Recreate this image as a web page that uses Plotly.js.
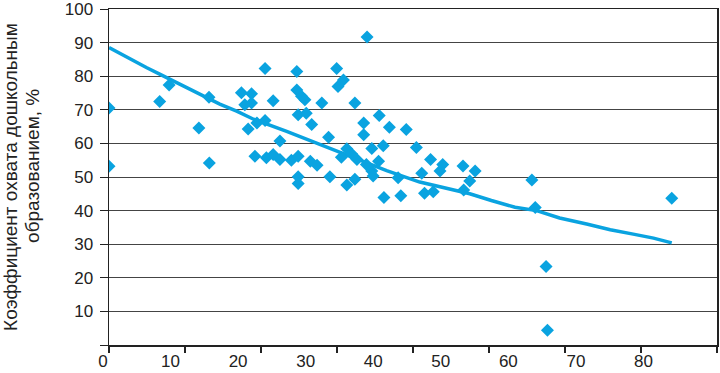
<!DOCTYPE html>
<html>
<head>
<meta charset="utf-8">
<script src="https://cdn.plot.ly/plotly-3.0.1.min.js"></script>
<style>html,body{margin:0;padding:0;background:#fff;}#chart{width:720px;height:373px;}</style>
</head>
<body>
<div id="chart"></div>
<script>
// Scatter points: x = indicator value, y = pre-school enrolment ratio, %
const pointsX = [0, 0, 7.5, 8.9, 13.3, 14.8, 14.85,
  19.6, 21.1, 20.1, 21.1, 24.3, 20.6, 21.9, 23.1, 23.1, 25.3,
  27.8, 27.8, 28.5, 29.0, 31.5, 28.0, 29.2, 30.0, 32.5,
  33.7, 34.7, 33.9, 36.4, 38.2,
  40.0, 37.7, 37.7, 41.5, 44.0,
  21.6, 23.3, 24.3, 25.3, 27.0, 28.0, 29.8, 30.8, 28.0, 28.0, 32.7, 34.4, 35.2,
  35.2, 35.9, 36.7, 38.9, 40.6, 39.9, 38.1, 38.9, 39.1, 36.4, 45.5, 42.8,
  40.7, 43.2, 47.6, 49.4, 49.0, 46.3, 46.7, 48.0,
  52.4, 54.2, 53.4, 52.5,
  62.6, 63.1, 83.3, 64.7, 64.9];
const pointsY = [70.5, 53.2, 72.5, 77.4, 64.6, 73.7, 54.2,
  75.1, 74.8, 71.5, 72.0, 72.7, 64.3, 66.1, 66.8, 82.3, 60.7,
  81.4, 75.9, 74.0, 73.0, 72.0, 68.5, 69.0, 65.6, 61.8,
  82.3, 78.9, 76.9, 72.0, 91.7,
  68.3, 66.1, 62.6, 64.8, 64.1,
  56.2, 55.7, 56.7, 55.2, 55.0, 56.2, 54.7, 53.5, 50.1, 48.1, 50.1, 55.9, 47.6,
  58.4, 56.9, 55.2, 58.5, 59.3, 54.7, 53.7, 51.8, 50.3, 49.3, 58.8, 49.8,
  43.9, 44.4, 55.2, 53.7, 51.8, 51.1, 45.2, 45.6,
  53.3, 51.8, 48.8, 46.1,
  49.1, 40.9, 43.7, 23.4, 4.4];

// Trend line
const trendX = [0, 2.6, 5.6, 7.5, 10.5, 13.5, 14.9, 16.4, 18.9, 21.4, 26.3, 31.2, 36.2, 41.1, 46.0, 51.0, 53.4, 56.6, 60.1, 63.3, 66.7, 70.7, 74.2, 77.6, 80.6, 83.3];
const trendY = [88.5, 85.6, 82.5, 80.6, 77.6, 74.6, 73.2, 71.7, 69.6, 67.2, 63.6, 59.7, 55.6, 51.9, 48.5, 46.3, 45.0, 43.0, 41.0, 40.0, 37.8, 36.0, 34.3, 33.0, 31.8, 30.4];

const xTickVals = [0, 10, 20, 30, 40, 50, 60, 70, 80];
const xTickText = ['0', '10', '20', '30', '40', '50', '60', '70', '80'];
const yTickVals = [0, 10, 20, 30, 40, 50, 60, 70, 80, 90, 100];
const yTickText = ['', '10', '20', '30', '40', '50', '60', '70', '80', '90', '100'];
const titleLine1 = 'Коэффициент охвата дошкольным';
const titleLine2 = 'образованием, %';

const blue = '#0aa3e0';
const font = {family: '"Liberation Sans", Arial, sans-serif', size: 17, color: '#222'};

const traces = [
  {x: trendX, y: trendY, type: 'scatter', mode: 'lines', line: {color: blue, width: 3.5}, hoverinfo: 'skip'},
  {x: pointsX, y: pointsY, type: 'scatter', mode: 'markers', marker: {symbol: 'diamond', size: 10, color: blue}}
];

const layout = {
  width: 720, height: 373,
  margin: {l: 109, r: 3, t: 9, b: 28},
  paper_bgcolor: '#fff', plot_bgcolor: '#fff',
  showlegend: false,
  font: font,
  xaxis: {
    range: [0, 90], tickvals: xTickVals, ticktext: xTickText, ticks: '',
    showgrid: false, zeroline: false, showline: true, linecolor: '#222', linewidth: 1.5, mirror: true,
    tickfont: font, ticklabelshift: -6, ticklabelstandoff: 0, ticklabeloverflow: 'allow',
    minor: {tick0: 0, dtick: 11.25, ticks: 'outside', ticklen: 6, tickcolor: '#222', tickwidth: 1.2, showgrid: false}
  },
  yaxis: {
    range: [0, 100], tickvals: yTickVals, ticktext: yTickText,
    ticks: 'outside', ticklen: 8, tickcolor: '#222', tickwidth: 1,
    showgrid: true, gridcolor: '#444', gridwidth: 1,
    zeroline: false, showline: true, linecolor: '#222', linewidth: 1.5, mirror: true,
    tickfont: font, ticklabelstandoff: 3, ticklabeloverflow: 'allow'
  },
  annotations: [
    {text: titleLine1, xref: 'paper', yref: 'paper', x: -0.163, y: 0.5, xanchor: 'center', yanchor: 'middle', textangle: -90, showarrow: false, font: {family: font.family, size: 19, color: '#222'}},
    {text: titleLine2, xref: 'paper', yref: 'paper', x: -0.125, y: 0.533, xanchor: 'center', yanchor: 'middle', textangle: -90, showarrow: false, font: {family: font.family, size: 19, color: '#222'}}
  ]
};

Plotly.newPlot('chart', traces, layout, {displayModeBar: false, staticPlot: true});
</script>
</body>
</html>
